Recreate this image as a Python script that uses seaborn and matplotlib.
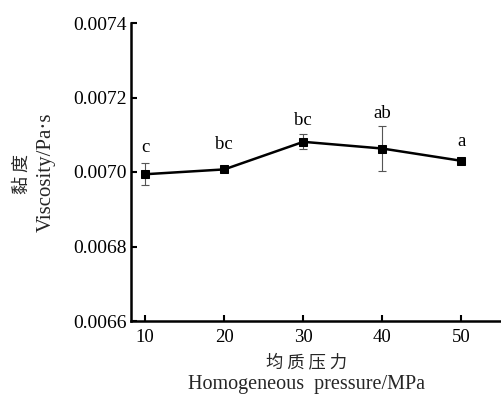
import matplotlib
matplotlib.use("Agg")
import matplotlib.pyplot as plt
import seaborn as sns
import pandas as pd

pressure = [10, 20, 30, 40, 50]
viscosity = [0.006994, 0.007007, 0.007081, 0.007063, 0.007030]
errors = [0.000030, 0.000006, 0.000020, 0.000060, 0.000004]
letters = ["c", "bc", "bc", "ab", "a"]
y_ticks = [0.0066, 0.0068, 0.0070, 0.0072, 0.0074]
x_ticks = [10, 20, 30, 40, 50]

sns.set_theme(style="ticks")
plt.rcParams['font.family'] = ['Liberation Serif', 'Noto Sans CJK SC', 'DejaVu Sans']

df = pd.DataFrame({"pressure": pressure, "viscosity": viscosity})

W, H = 501, 396
fig = plt.figure(figsize=(W / 100, H / 100), dpi=100)
ax = fig.add_axes([131 / W, 1 - 321 / H, 1 - 131 / W, (321 - 23) / H])

ax.errorbar(pressure, viscosity, yerr=errors, fmt="none", ecolor="#555555",
            elinewidth=0.8, capsize=3, capthick=0.8, zorder=2)
sns.lineplot(data=df, x="pressure", y="viscosity", ax=ax, color="black",
             linewidth=1.8, marker="s", markersize=5.5, markeredgecolor="black",
             zorder=3)

offsets = [5, 10, 4, 3, 7]
for x, y, e, lab, off in zip(pressure, viscosity, errors, letters, offsets):
    ax.annotate(lab, (x, y + e), xytext=(0, off), textcoords="offset points",
                ha="center", va="bottom", fontsize=13.5, color="black")

ax.set_xlim(8.2, 55)
ax.set_ylim(0.0066, 0.0074)
ax.set_xticks(x_ticks)
ax.set_yticks(y_ticks)
ax.set_yticklabels([f"{v:.4f}" for v in y_ticks])
ax.set_xlabel("")
ax.set_ylabel("")
ax.tick_params(axis="both", direction="in", length=4, width=1.5, colors="black")
ax.tick_params(axis="y", pad=3, labelsize=14)
ax.tick_params(axis="x", pad=6, labelsize=13.5)
for s in ["top", "right"]:
    ax.spines[s].set_visible(False)
for s in ["left", "bottom"]:
    ax.spines[s].set_linewidth(1.8)
    ax.spines[s].set_color("black")

# axis titles (two-line, Chinese + English)
fig.text(307 / W, 1 - 362 / H, "均 质 压 力", ha="center", va="center",
         fontsize=12.5, family=['Noto Sans CJK SC', 'DejaVu Sans'])
fig.text(307 / W, 1 - 385 / H, "Homogeneous  pressure/MPa", ha="center",
         va="center", fontsize=14.5)
fig.text(22 / W, 1 - 174 / H, "黏 度", ha="center", va="center", rotation=90,
         fontsize=13, family=['Noto Sans CJK SC', 'DejaVu Sans'])
fig.text(46 / W, 1 - 172 / H, "Viscosity/Pa·s", ha="center", va="center",
         rotation=90, fontsize=15)

fig.savefig("out.png", dpi=100, facecolor="white")
